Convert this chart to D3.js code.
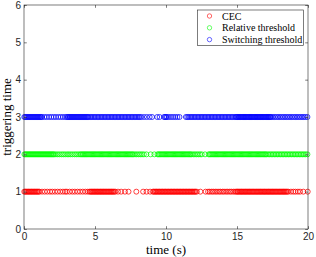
<!DOCTYPE html>
<html>
<head>
<meta charset="utf-8">
<script src="https://cdn.jsdelivr.net/npm/d3@7"></script>
<style>
  body { margin: 0; background: #fff; }
  svg { display: block; }
  .tick-label { font-family: "Liberation Sans", Arial, sans-serif; font-size: 10px; fill: #262626; }
  .axis-label { font-family: "Liberation Serif", "Times New Roman", serif; font-size: 13px; fill: #000; }
  .legend-text { font-family: "Liberation Serif", "Times New Roman", serif; font-size: 10px; fill: #000; }
</style>
</head>
<body>
<div id="chart"></div>
<script>

// =========
// Data
// =========

var series_names = ['CEC', 'Relative threshold', 'Switching threshold'];
var series_levels = [1, 2, 3];
var series_colors = ['#ff0000', '#00ff00', '#0000ff'];
var x_ticks = [0, 5, 10, 15, 20];
var y_ticks = [0, 1, 2, 3, 4, 5, 6];

// triggering instants (s)
var cec_times = [
    0.02,0.09,0.15,0.22,0.29,0.35,0.42,0.49,0.55,0.62,0.69,0.75,0.82,0.89,0.95,1.02,1.09,
    1.27,1.46,1.64,1.83,1.99,2.18,2.37,2.55,2.74,2.90,3.02,3.21,3.40,3.58,3.77,3.95,4.14,4.32,4.49,
    4.61,4.68,4.75,4.81,4.88,4.95,5.01,5.08,5.15,5.21,5.28,5.35,5.41,5.48,5.55,5.61,5.68,5.75,5.81,
    5.88,5.95,6.01,6.08,6.15,6.21,6.28,6.35,6.43,
    6.62,6.84,7.11,7.36,7.91,8.39,8.63,8.88,
    9.08,9.14,9.22,9.29,9.35,9.43,9.50,9.56,9.64,9.71,9.77,9.85,9.92,9.98,10.06,10.13,10.19,10.27,
    10.34,10.40,10.48,10.55,10.61,10.69,10.76,10.82,10.90,10.97,11.03,11.11,11.18,11.24,11.32,11.39,
    11.45,11.53,11.60,11.66,11.74,11.81,11.87,11.95,12.02,12.08,12.17,
    12.42,12.79,
    12.96,13.08,13.22,13.33,13.47,13.59,13.73,13.84,13.98,14.09,14.23,14.35,14.49,14.60,14.74,14.86,
    14.95,15.02,15.08,15.15,15.22,15.29,15.35,15.42,15.49,15.56,15.62,15.69,15.76,15.83,15.89,15.96,
    16.03,16.10,16.16,16.23,16.30,16.37,16.43,16.50,16.57,16.64,16.70,16.77,16.84,16.91,16.97,17.04,
    17.11,17.18,17.24,17.31,17.38,17.45,17.51,17.58,17.65,17.72,17.78,17.85,17.92,17.99,18.05,18.12,
    18.19,18.26,18.32,18.39,18.46,18.53,18.61,
    18.80,18.97,19.12,19.29,19.44,19.67,19.98
];

var relative_times = [
    0.03,0.10,0.17,0.24,0.31,0.38,0.45,0.52,0.59,0.66,0.73,0.80,0.87,0.94,1.01,1.08,1.15,1.22,1.29,
    1.36,1.43,1.50,1.57,1.64,1.71,1.78,1.85,1.92,1.99,2.06,2.13,
    2.25,2.38,2.51,2.65,2.77,2.90,3.04,3.16,3.29,3.42,3.56,3.68,3.81,3.94,
    4.02,4.10,4.18,4.26,4.34,4.42,4.50,4.58,4.66,4.74,4.82,4.90,4.98,5.06,5.14,5.22,5.30,5.38,5.46,
    5.54,5.62,5.70,5.78,5.86,5.94,6.02,6.10,6.18,6.26,6.34,6.42,6.50,6.58,6.66,6.74,6.82,6.90,6.98,
    7.06,7.14,7.22,7.30,7.38,7.46,7.54,7.62,7.70,
    7.82,7.94,8.07,8.19,8.31,8.44,
    8.62,8.92,9.18,
    9.40,9.48,9.56,9.64,9.72,9.80,9.88,9.96,10.04,10.12,10.20,10.28,10.36,10.44,10.52,10.60,10.68,
    10.76,10.84,10.92,11.00,11.08,11.16,11.24,11.32,11.40,11.48,11.56,11.64,11.72,11.80,
    11.92,12.04,12.16,12.28,12.40,12.52,
    12.75,
    13.00,13.08,13.16,13.24,13.32,13.40,13.48,13.56,13.64,13.72,13.80,13.88,13.96,14.04,14.12,14.20,
    14.28,14.36,14.44,14.52,14.60,14.68,14.76,14.84,14.92,15.00,15.08,15.16,15.24,15.32,15.40,15.48,
    15.56,15.64,15.72,15.80,15.88,15.96,16.04,16.12,16.20,16.28,16.36,16.44,16.52,16.60,16.68,16.76,
    16.84,16.92,17.00,17.08,
    17.19,17.30,17.41,17.52,17.63,17.74,17.85,17.96,18.07,18.18,18.29,18.40,18.51,18.62,18.73,18.84,
    18.95,19.06,19.17,19.28,19.39,19.50,19.61,19.72,19.83,19.96
];

var switching_times = [
    0.02,0.09,0.16,0.23,0.30,0.37,0.44,0.51,0.58,0.65,0.72,0.79,0.86,0.93,1.00,1.07,1.14,1.21,1.28,
    1.44,1.60,1.77,1.93,2.09,2.25,2.42,2.58,2.74,2.90,
    3.02,3.09,3.16,3.23,3.30,3.37,3.44,3.51,3.58,3.65,3.72,3.79,3.86,3.93,4.00,4.07,4.14,4.21,4.28,
    4.35,4.42,4.49,4.56,
    4.66,4.76,4.86,4.96,5.06,5.16,5.26,5.36,5.46,5.56,5.66,5.76,5.86,5.96,6.06,6.16,6.26,6.36,6.46,
    6.56,6.66,6.76,6.86,6.96,7.06,7.16,7.26,7.36,7.46,7.56,7.66,7.76,7.86,7.96,8.06,8.16,8.26,
    8.45,8.65,8.85,9.02,
    9.38,9.55,
    9.86,9.93,10.00,10.07,
    10.20,10.35,10.50,10.65,10.80,10.95,
    11.40,11.50,11.60,11.70,11.80,11.90,12.00,12.10,12.20,12.30,12.40,12.50,12.60,12.70,12.80,12.90,
    13.00,13.10,13.20,13.30,13.40,13.50,13.60,13.70,13.80,13.90,14.00,14.10,14.20,14.30,14.40,14.50,
    14.60,14.70,14.80,
    14.90,14.96,15.02,15.08,15.14,15.20,15.26,15.32,15.38,15.44,15.50,15.56,15.62,15.68,15.74,15.80,
    15.86,15.92,15.98,16.04,16.10,16.16,16.22,16.28,16.34,16.40,16.46,16.52,16.58,16.64,16.70,16.76,
    16.82,16.88,16.94,17.00,17.06,17.12,17.18,17.24,17.30,17.36,17.42,
    17.54,17.66,17.78,17.90,18.02,18.14,18.26,18.38,18.50,18.62,18.74,18.86,18.98,19.10,19.22,19.34,
    19.46,19.58,19.70,19.82,19.96
];

var series_times = [cec_times, relative_times, switching_times];

// ==============
// Trigger Chart
// ==============

function TriggerChart(selection){
    var that = this;
    that.width = 316;
    that.height = 257;
    that.plot = {left: 24, right: 308, top: 5, bottom: 229};
    that.marker_r = 2.5;
    that.svg = selection.append('svg')
        .attr('width', that.width)
        .attr('height', that.height);
    that.x_scale = d3.scaleLinear().domain([0, 20]).range([that.plot.left, that.plot.right]);
    that.y_scale = d3.scaleLinear().domain([0, 6]).range([that.plot.bottom, that.plot.top]);
}

TriggerChart.prototype.draw_axes = function(){
    var svg = this.svg;
    var p = this.plot;
    var x_scale = this.x_scale;
    var y_scale = this.y_scale;
    var tick_len = 2.8;
    var axis_color = '#262626';
    var fmt = d3.format('d');

    // bottom/left axes with ticks pointing inward, MATLAB style
    var x_axis = d3.axisBottom(x_scale).tickValues(x_ticks).tickFormat(fmt).tickSizeInner(-tick_len).tickSizeOuter(0).tickPadding(4);
    var y_axis = d3.axisLeft(y_scale).tickValues(y_ticks).tickFormat(fmt).tickSizeInner(-tick_len).tickSizeOuter(0).tickPadding(3);
    var x_top = d3.axisTop(x_scale).tickValues(x_ticks).tickSizeInner(-tick_len).tickSizeOuter(0).tickFormat('');
    var y_right = d3.axisRight(y_scale).tickValues(y_ticks).tickSizeInner(-tick_len).tickSizeOuter(0).tickFormat('');

    var gx = svg.append('g').attr('transform', 'translate(0,' + p.bottom + ')').call(x_axis);
    var gy = svg.append('g').attr('transform', 'translate(' + p.left + ',0)').call(y_axis);
    var gt = svg.append('g').attr('transform', 'translate(0,' + p.top + ')').call(x_top);
    var gr = svg.append('g').attr('transform', 'translate(' + p.right + ',0)').call(y_right);

    [gx, gy, gt, gr].forEach(function(g){
        g.attr('font-family', null).attr('font-size', null);
        g.select('.domain').remove();
        g.selectAll('.tick line').attr('stroke', axis_color).attr('stroke-width', 0.6);
        g.selectAll('.tick text').attr('class', 'tick-label').attr('fill', null);
    });

    svg.append('rect')
        .attr('x', p.left)
        .attr('y', p.top)
        .attr('width', p.right - p.left)
        .attr('height', p.bottom - p.top)
        .attr('fill', 'none')
        .attr('stroke', axis_color)
        .attr('stroke-width', 0.6);

    svg.append('text')
        .attr('class', 'axis-label')
        .attr('x', (p.left + p.right) / 2)
        .attr('y', 254)
        .attr('text-anchor', 'middle')
        .text('time (s)');

    svg.append('text')
        .attr('class', 'axis-label')
        .attr('transform', 'translate(10.5,' + (p.top + p.bottom) / 2 + ') rotate(-90)')
        .attr('text-anchor', 'middle')
        .text('triggering time');
}

TriggerChart.prototype.draw_points = function(){
    var svg = this.svg;
    var x_scale = this.x_scale;
    var y_scale = this.y_scale;
    var r = this.marker_r;

    series_times.forEach(function(times, i){
        svg.append('g')
            .selectAll('circle')
            .data(times)
            .enter()
            .append('circle')
            .attr('cx', function(d){ return x_scale(d); })
            .attr('cy', y_scale(series_levels[i]))
            .attr('r', r)
            .attr('fill', 'none')
            .attr('stroke', series_colors[i])
            .attr('stroke-width', 0.75);
    });
}

TriggerChart.prototype.draw_legend = function(){
    var box = {x: 197.5, y: 10, w: 106, h: 35.5};
    var legend = this.svg.append('g');

    legend.append('rect')
        .attr('x', box.x)
        .attr('y', box.y)
        .attr('width', box.w)
        .attr('height', box.h)
        .attr('fill', '#fff')
        .attr('stroke', '#262626')
        .attr('stroke-width', 0.6);

    var rows = legend.selectAll('g.row')
        .data(series_names)
        .enter()
        .append('g')
        .attr('class', 'row')
        .attr('transform', function(d, i){ return 'translate(0,' + (box.y + 6 + i * 11.8) + ')'; });

    rows.append('circle')
        .attr('cx', 209.5)
        .attr('cy', 0)
        .attr('r', 2.2)
        .attr('fill', 'none')
        .attr('stroke', function(d, i){ return series_colors[i]; })
        .attr('stroke-width', 0.6);

    rows.append('text')
        .attr('class', 'legend-text')
        .attr('x', 222)
        .attr('y', 3.5)
        .text(function(d){ return d; });
}

TriggerChart.prototype.draw = function(){
    this.draw_points();
    this.draw_axes();
    this.draw_legend();
}

var trigger_chart = new TriggerChart(d3.select('#chart'));
trigger_chart.draw();

</script>
</body>
</html>
